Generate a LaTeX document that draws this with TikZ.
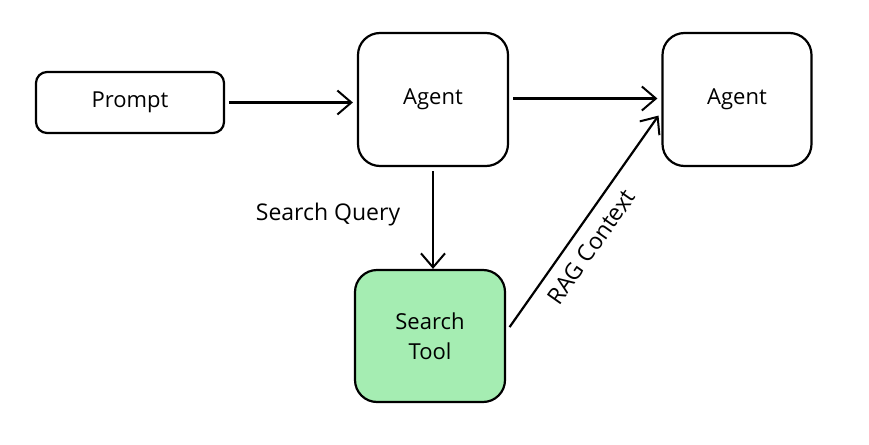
\documentclass[tikz,border=0pt]{standalone}
\usepackage{fontspec}
\setmainfont{Open Sans}
\usetikzlibrary{arrows.meta}
\definecolor{toolgreen}{HTML}{A5EDB2}
\tikzset{
  >={Straight Barb[length=14pt,width=24pt,line width=2pt]},
  box/.style={
    rectangle,
    rounded corners=22pt,
    draw=black, line width=2.2pt,
    align=center,
    font=\fontsize{22}{30}\selectfont},
  smallbox/.style={box, rounded corners=11pt},
  conn/.style={draw, line width=2.2pt, ->},
  lbl/.style={font=\fontsize{23}{26}\selectfont},
}
\begin{document}
\begin{tikzpicture}[x=1pt,y=-1pt]
\useasboundingbox (0,0) rectangle (869,444);
\node[smallbox, minimum width=188pt, minimum height=61pt] (prompt) at (130,102.5) {Prompt};
\node[box, minimum width=150pt, minimum height=133pt] (agenta) at (433,99.5) {Agent};
\node[box, minimum width=149pt, minimum height=133pt] (agentb) at (737,99.5) {Agent};
\node[box, fill=toolgreen, minimum width=150pt, minimum height=132pt] (tool) at (430,336) {Search\\Tool};
% connectors
\draw[conn, shorten <=4pt, shorten >=4pt] (prompt.east) -- (agenta.west|-prompt.east);
\draw[conn, shorten <=4pt, shorten >=4pt] ([yshift=1pt]agenta.east) -- ([yshift=1pt]agentb.west);
\draw[conn, shorten <=4pt] (agenta.south) -- (agenta.south|-tool.north);
\node[lbl] (query) at (328,215) {Search Query};
\draw[conn, shorten <=6pt, shorten >=5pt] ([yshift=4pt]tool.east) -- ([yshift=-12pt]agentb.west)
  node[lbl, sloped, below=11pt, pos=0.44, inner sep=0pt] (rag) {RAG Context};
\end{tikzpicture}
\end{document}
